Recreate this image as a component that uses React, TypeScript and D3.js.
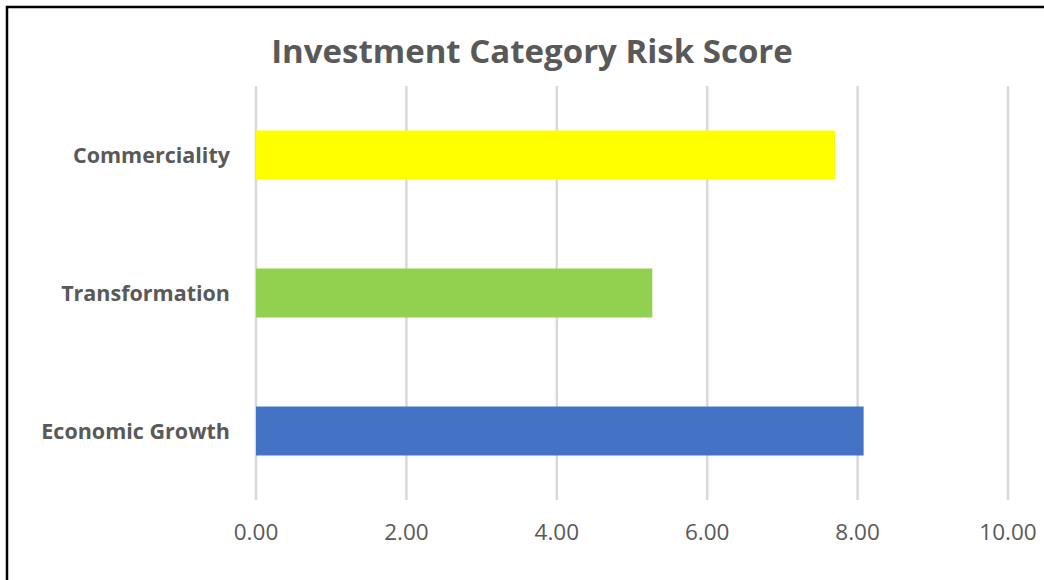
import { useMemo } from 'react'
import * as d3 from 'd3'

// Chart data
const categories = ['Commerciality', 'Transformation', 'Economic Growth']
const scores = [7.7, 5.27, 8.08]
const barColors = ['#FFFF00', '#92D050', '#4472C4']
const xTicks = [0, 2, 4, 6, 8, 10]
const title = 'Investment Category Risk Score'

const W = 1044
const H = 580
const FONT = '"Open Sans", Lato, sans-serif'
const TEXT = '#595959'

export default function App() {
  const plot = { left: 256, right: 1008, top: 86, bottom: 500 }

  const x = useMemo(
    () => d3.scaleLinear().domain([0, 10]).range([plot.left, plot.right]),
    []
  )
  const y = useMemo(
    () => d3.scaleBand<string>().domain(categories).range([plot.top, plot.bottom]).padding(0),
    []
  )
  // Excel-style gap width: bar takes ~35% of its category cell
  const barH = y.bandwidth() * 0.355

  return (
    <svg
      width={W}
      height={H}
      style={{ position: 'absolute', left: 0, top: 0, background: '#fff' }}
    >
      <rect x={0} y={0} width={W} height={H} fill="#fff" />
      {/* chart frame (cropped at right and bottom) */}
      <rect x={7} y={7} width={W + 20} height={H + 20} fill="none" stroke="#000" strokeWidth={2.5} />

      <text
        x={532}
        y={63}
        textAnchor="middle"
        fontFamily={FONT}
        fontWeight={700}
        fontSize={33}
        fill={TEXT}
      >
        {title}
      </text>

      {/* vertical gridlines */}
      {xTicks.map(t => (
        <line
          key={t}
          x1={x(t)}
          x2={x(t)}
          y1={plot.top}
          y2={plot.bottom}
          stroke="#D9D9D9"
          strokeWidth={2.5}
        />
      ))}

      {/* bars */}
      {categories.map((c, i) => {
        const cy = (y(c) ?? 0) + y.bandwidth() / 2
        return (
          <rect
            key={c}
            x={x(0)}
            y={cy - barH / 2}
            width={x(scores[i]) - x(0)}
            height={barH}
            fill={barColors[i]}
          />
        )
      })}

      {/* category labels */}
      {categories.map(c => (
        <text
          key={c}
          x={230}
          y={(y(c) ?? 0) + y.bandwidth() / 2}
          dy="0.35em"
          textAnchor="end"
          fontFamily={FONT}
          fontWeight={700}
          fontSize={21.5}
          fill={TEXT}
        >
          {c}
        </text>
      ))}

      {/* x tick labels */}
      {xTicks.map(t => (
        <text
          key={t}
          x={x(t)}
          y={540}
          textAnchor="middle"
          fontFamily={FONT}
          fontSize={22.5}
          fill={TEXT}
        >
          {d3.format('.2f')(t)}
        </text>
      ))}
    </svg>
  )
}
